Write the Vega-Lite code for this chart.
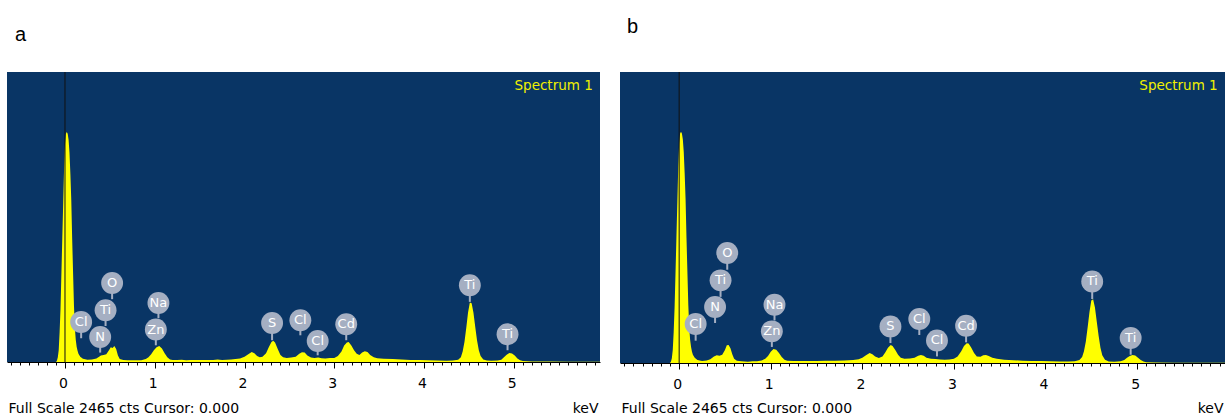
{
  "$schema": "https://vega.github.io/schema/vega-lite/v6.json",
  "background": "white",
  "padding": {"left": 7, "top": 16, "right": 0, "bottom": 0},
  "bounds": "flush",
  "spacing": 20,
  "config": {"font": "DejaVu Sans", "view": {"stroke": null}},
  "datasets": {
    "specA": [
      {"e": -0.646, "c": 0}, {"e": -0.1, "c": 0}, {"e": -0.09, "c": 10}, {"e": -0.08, "c": 40}, {"e": -0.07, "c": 100},
      {"e": -0.06, "c": 250}, {"e": -0.05, "c": 450}, {"e": -0.04, "c": 750}, {"e": -0.03, "c": 1050}, {"e": -0.02, "c": 1350},
      {"e": -0.01, "c": 1650}, {"e": 0.0, "c": 1850}, {"e": 0.01, "c": 1940}, {"e": 0.02, "c": 1955}, {"e": 0.03, "c": 1940},
      {"e": 0.04, "c": 1890}, {"e": 0.05, "c": 1780}, {"e": 0.06, "c": 1600}, {"e": 0.07, "c": 1380}, {"e": 0.08, "c": 1050},
      {"e": 0.09, "c": 760}, {"e": 0.1, "c": 480}, {"e": 0.11, "c": 290}, {"e": 0.12, "c": 190}, {"e": 0.13, "c": 130},
      {"e": 0.14, "c": 95}, {"e": 0.15, "c": 70}, {"e": 0.17, "c": 45}, {"e": 0.2, "c": 28}, {"e": 0.25, "c": 20},
      {"e": 0.3, "c": 22}, {"e": 0.35, "c": 30}, {"e": 0.38, "c": 45}, {"e": 0.4, "c": 55}, {"e": 0.43, "c": 60},
      {"e": 0.46, "c": 65}, {"e": 0.49, "c": 100}, {"e": 0.51, "c": 125}, {"e": 0.53, "c": 118}, {"e": 0.55, "c": 135},
      {"e": 0.57, "c": 110}, {"e": 0.59, "c": 55}, {"e": 0.61, "c": 25}, {"e": 0.65, "c": 18}, {"e": 0.7, "c": 15},
      {"e": 0.75, "c": 14}, {"e": 0.8, "c": 14}, {"e": 0.85, "c": 15}, {"e": 0.9, "c": 25}, {"e": 0.93, "c": 40},
      {"e": 0.96, "c": 65}, {"e": 0.99, "c": 100}, {"e": 1.02, "c": 125}, {"e": 1.05, "c": 135}, {"e": 1.08, "c": 115},
      {"e": 1.11, "c": 75}, {"e": 1.14, "c": 40}, {"e": 1.17, "c": 22}, {"e": 1.2, "c": 18}, {"e": 1.25, "c": 17},
      {"e": 1.3, "c": 20}, {"e": 1.35, "c": 15}, {"e": 1.4, "c": 16}, {"e": 1.45, "c": 17}, {"e": 1.5, "c": 16},
      {"e": 1.55, "c": 18}, {"e": 1.6, "c": 17}, {"e": 1.65, "c": 18}, {"e": 1.7, "c": 22}, {"e": 1.75, "c": 18},
      {"e": 1.8, "c": 20}, {"e": 1.85, "c": 22}, {"e": 1.9, "c": 25}, {"e": 1.95, "c": 30}, {"e": 2.0, "c": 45},
      {"e": 2.05, "c": 70}, {"e": 2.08, "c": 85}, {"e": 2.11, "c": 75}, {"e": 2.14, "c": 50}, {"e": 2.17, "c": 40},
      {"e": 2.2, "c": 45}, {"e": 2.24, "c": 75}, {"e": 2.27, "c": 125}, {"e": 2.3, "c": 170}, {"e": 2.32, "c": 180},
      {"e": 2.34, "c": 165}, {"e": 2.37, "c": 110}, {"e": 2.4, "c": 60}, {"e": 2.43, "c": 40}, {"e": 2.47, "c": 35},
      {"e": 2.52, "c": 38}, {"e": 2.57, "c": 45}, {"e": 2.61, "c": 70}, {"e": 2.64, "c": 82}, {"e": 2.67, "c": 80},
      {"e": 2.7, "c": 55}, {"e": 2.74, "c": 38}, {"e": 2.78, "c": 35}, {"e": 2.82, "c": 38}, {"e": 2.86, "c": 32},
      {"e": 2.9, "c": 30}, {"e": 2.95, "c": 33}, {"e": 3.0, "c": 35}, {"e": 3.04, "c": 50}, {"e": 3.08, "c": 90},
      {"e": 3.11, "c": 140}, {"e": 3.14, "c": 165}, {"e": 3.16, "c": 170}, {"e": 3.19, "c": 140}, {"e": 3.22, "c": 100},
      {"e": 3.25, "c": 70}, {"e": 3.28, "c": 60}, {"e": 3.31, "c": 80}, {"e": 3.34, "c": 92}, {"e": 3.37, "c": 85},
      {"e": 3.4, "c": 60}, {"e": 3.44, "c": 40}, {"e": 3.48, "c": 32}, {"e": 3.55, "c": 28}, {"e": 3.65, "c": 25},
      {"e": 3.75, "c": 22}, {"e": 3.85, "c": 18}, {"e": 3.95, "c": 17}, {"e": 4.05, "c": 15}, {"e": 4.15, "c": 12},
      {"e": 4.25, "c": 10}, {"e": 4.32, "c": 12}, {"e": 4.38, "c": 20}, {"e": 4.41, "c": 40}, {"e": 4.43, "c": 90},
      {"e": 4.45, "c": 170}, {"e": 4.47, "c": 290}, {"e": 4.49, "c": 420}, {"e": 4.51, "c": 505}, {"e": 4.53, "c": 500},
      {"e": 4.55, "c": 420}, {"e": 4.57, "c": 300}, {"e": 4.59, "c": 185}, {"e": 4.61, "c": 100}, {"e": 4.63, "c": 50},
      {"e": 4.66, "c": 22}, {"e": 4.7, "c": 12}, {"e": 4.75, "c": 10}, {"e": 4.82, "c": 12}, {"e": 4.86, "c": 20},
      {"e": 4.89, "c": 40}, {"e": 4.92, "c": 62}, {"e": 4.95, "c": 76}, {"e": 4.98, "c": 72}, {"e": 5.01, "c": 55},
      {"e": 5.04, "c": 30}, {"e": 5.07, "c": 15}, {"e": 5.1, "c": 8}, {"e": 5.2, "c": 5}, {"e": 5.4, "c": 4},
      {"e": 5.6, "c": 3}, {"e": 5.8, "c": 3}, {"e": 5.96, "c": 2}
    ],
    "specB": [
      {"e": -0.646, "c": 0}, {"e": -0.1, "c": 0}, {"e": -0.09, "c": 10}, {"e": -0.08, "c": 40}, {"e": -0.07, "c": 110},
      {"e": -0.06, "c": 260}, {"e": -0.05, "c": 470}, {"e": -0.04, "c": 760}, {"e": -0.03, "c": 1060}, {"e": -0.02, "c": 1360},
      {"e": -0.01, "c": 1660}, {"e": 0.0, "c": 1860}, {"e": 0.01, "c": 1945}, {"e": 0.02, "c": 1958}, {"e": 0.03, "c": 1945},
      {"e": 0.04, "c": 1895}, {"e": 0.05, "c": 1790}, {"e": 0.06, "c": 1610}, {"e": 0.07, "c": 1390}, {"e": 0.08, "c": 1060},
      {"e": 0.09, "c": 770}, {"e": 0.1, "c": 490}, {"e": 0.11, "c": 300}, {"e": 0.12, "c": 195}, {"e": 0.13, "c": 135},
      {"e": 0.14, "c": 95}, {"e": 0.15, "c": 70}, {"e": 0.17, "c": 45}, {"e": 0.2, "c": 25}, {"e": 0.25, "c": 18},
      {"e": 0.3, "c": 22}, {"e": 0.34, "c": 32}, {"e": 0.38, "c": 55}, {"e": 0.41, "c": 65}, {"e": 0.44, "c": 62},
      {"e": 0.47, "c": 70}, {"e": 0.5, "c": 110}, {"e": 0.52, "c": 150}, {"e": 0.54, "c": 152}, {"e": 0.56, "c": 125},
      {"e": 0.58, "c": 75}, {"e": 0.6, "c": 35}, {"e": 0.63, "c": 20}, {"e": 0.68, "c": 15}, {"e": 0.75, "c": 10},
      {"e": 0.8, "c": 14}, {"e": 0.85, "c": 15}, {"e": 0.9, "c": 22}, {"e": 0.94, "c": 35}, {"e": 0.97, "c": 60},
      {"e": 1.0, "c": 95}, {"e": 1.03, "c": 118}, {"e": 1.06, "c": 112}, {"e": 1.09, "c": 85}, {"e": 1.12, "c": 50},
      {"e": 1.15, "c": 28}, {"e": 1.18, "c": 20}, {"e": 1.25, "c": 18}, {"e": 1.3, "c": 16}, {"e": 1.4, "c": 17},
      {"e": 1.5, "c": 18}, {"e": 1.6, "c": 19}, {"e": 1.7, "c": 20}, {"e": 1.8, "c": 22}, {"e": 1.9, "c": 26},
      {"e": 1.96, "c": 32}, {"e": 2.0, "c": 45}, {"e": 2.04, "c": 65}, {"e": 2.08, "c": 85}, {"e": 2.11, "c": 75},
      {"e": 2.14, "c": 55}, {"e": 2.18, "c": 42}, {"e": 2.22, "c": 55}, {"e": 2.25, "c": 90}, {"e": 2.28, "c": 130},
      {"e": 2.31, "c": 152}, {"e": 2.33, "c": 145}, {"e": 2.36, "c": 110}, {"e": 2.39, "c": 70}, {"e": 2.42, "c": 45},
      {"e": 2.46, "c": 35}, {"e": 2.52, "c": 38}, {"e": 2.57, "c": 45}, {"e": 2.61, "c": 62}, {"e": 2.64, "c": 68},
      {"e": 2.67, "c": 62}, {"e": 2.7, "c": 45}, {"e": 2.75, "c": 35}, {"e": 2.8, "c": 33}, {"e": 2.85, "c": 30},
      {"e": 2.9, "c": 28}, {"e": 2.95, "c": 30}, {"e": 3.0, "c": 35}, {"e": 3.04, "c": 55}, {"e": 3.08, "c": 100},
      {"e": 3.11, "c": 145}, {"e": 3.14, "c": 168}, {"e": 3.16, "c": 165}, {"e": 3.19, "c": 130}, {"e": 3.22, "c": 85},
      {"e": 3.25, "c": 55}, {"e": 3.29, "c": 52}, {"e": 3.32, "c": 65}, {"e": 3.35, "c": 68}, {"e": 3.38, "c": 60},
      {"e": 3.42, "c": 45}, {"e": 3.47, "c": 35}, {"e": 3.55, "c": 28}, {"e": 3.65, "c": 24}, {"e": 3.75, "c": 20},
      {"e": 3.85, "c": 18}, {"e": 3.95, "c": 16}, {"e": 4.05, "c": 14}, {"e": 4.15, "c": 12}, {"e": 4.25, "c": 12},
      {"e": 4.32, "c": 15}, {"e": 4.37, "c": 25}, {"e": 4.4, "c": 50}, {"e": 4.42, "c": 100}, {"e": 4.44, "c": 180},
      {"e": 4.46, "c": 300}, {"e": 4.48, "c": 430}, {"e": 4.5, "c": 530}, {"e": 4.52, "c": 540}, {"e": 4.54, "c": 470},
      {"e": 4.56, "c": 350}, {"e": 4.58, "c": 230}, {"e": 4.6, "c": 130}, {"e": 4.62, "c": 65}, {"e": 4.65, "c": 28},
      {"e": 4.69, "c": 12}, {"e": 4.75, "c": 10}, {"e": 4.82, "c": 14}, {"e": 4.86, "c": 25}, {"e": 4.89, "c": 45},
      {"e": 4.92, "c": 60}, {"e": 4.95, "c": 68}, {"e": 4.98, "c": 63}, {"e": 5.01, "c": 45}, {"e": 5.04, "c": 25},
      {"e": 5.07, "c": 12}, {"e": 5.1, "c": 6}, {"e": 5.2, "c": 4}, {"e": 5.4, "c": 3}, {"e": 5.6, "c": 3},
      {"e": 5.8, "c": 2}, {"e": 5.96, "c": 2}
    ],
    "mkA": [
      {"el": "Cl", "e": 0.18, "lab": 340, "tip": 202},
      {"el": "N", "e": 0.392, "lab": 213, "tip": 80},
      {"el": "Ti", "e": 0.452, "lab": 440, "tip": 306},
      {"el": "O", "e": 0.525, "lab": 672, "tip": 534},
      {"el": "Zn", "e": 1.012, "lab": 276, "tip": 142},
      {"el": "Na", "e": 1.041, "lab": 502, "tip": 372},
      {"el": "S", "e": 2.307, "lab": 332, "tip": 185},
      {"el": "Cl", "e": 2.622, "lab": 355, "tip": 227},
      {"el": "Cl", "e": 2.815, "lab": 179, "tip": 57},
      {"el": "Cd", "e": 3.133, "lab": 321, "tip": 185},
      {"el": "Ti", "e": 4.51, "lab": 653, "tip": 511},
      {"el": "Ti", "e": 4.93, "lab": 236, "tip": 100}
    ],
    "mkB": [
      {"el": "Cl", "e": 0.18, "lab": 330, "tip": 189},
      {"el": "N", "e": 0.392, "lab": 474, "tip": 339},
      {"el": "Ti", "e": 0.452, "lab": 700, "tip": 560},
      {"el": "O", "e": 0.525, "lab": 932, "tip": 790},
      {"el": "Zn", "e": 1.012, "lab": 268, "tip": 136},
      {"el": "Na", "e": 1.041, "lab": 494, "tip": 360},
      {"el": "S", "e": 2.307, "lab": 310, "tip": 169},
      {"el": "Cl", "e": 2.622, "lab": 373, "tip": 237},
      {"el": "Cl", "e": 2.815, "lab": 191, "tip": 56},
      {"el": "Cd", "e": 3.133, "lab": 316, "tip": 175},
      {"el": "Ti", "e": 4.51, "lab": 691, "tip": 542},
      {"el": "Ti", "e": 4.93, "lab": 212, "tip": 70}
    ],
    "note": [{"t": "Spectrum 1", "e": 5.88, "c": 2350}]
  },
  "hconcat": [
    {
      "width": 593,
      "height": 290,
      "title": {"text": "a", "anchor": "start", "frame": "group", "font": "Liberation Sans", "fontSize": 20, "fontWeight": "normal", "color": "black", "baseline": "alphabetic", "offset": 11, "dx": 8},
      "view": {"fill": "#093565", "stroke": null},
      "layer": [
        {
          "data": {"name": "specA"},
          "mark": {"type": "area", "color": "#ffff00", "interpolate": "linear", "clip": true},
          "encoding": {
            "x": {"field": "e", "type": "quantitative", "scale": {"domain": [-0.646, 5.96], "nice": false, "zero": false},
              "axis": {"values": [-0.6,-0.5,-0.4,-0.3,-0.2,-0.1,0,0.1,0.2,0.3,0.4,0.5,0.6,0.7,0.8,0.9,1,1.1,1.2,1.3,1.4,1.5,1.6,1.7,1.8,1.9,2,2.1,2.2,2.3,2.4,2.5,2.6,2.7,2.8,2.9,3,3.1,3.2,3.3,3.4,3.5,3.6,3.7,3.8,3.9,4,4.1,4.2,4.3,4.4,4.5,4.6,4.7,4.8,4.9,5,5.1,5.2,5.3,5.4,5.5,5.6,5.7,5.8,5.9],
                "tickCount": 200,
                "labelExpr": "datum.value % 1 === 0 ? format(datum.value, 'd') : ''",
                "tickSize": {"condition": {"test": "datum.value % 1 === 0", "value": 6}, "value": 3},
                "tickColor": "black", "domainColor": "black", "labelColor": "black", "labelFont": "DejaVu Sans", "labelFontSize": 14,
                "labelPadding": 8, "labelOffset": -2, "labelOverlap": false, "labelFlush": false, "grid": false,
                "title": "Full Scale 2465 cts Cursor: 0.000", "titleFont": "DejaVu Sans", "titleFontSize": 14, "titleFontWeight": "normal",
                "titleColor": "black", "titleAnchor": "start", "titleAlign": "left", "titleBaseline": "middle", "titleX": 1, "titleY": 46}},
            "y": {"field": "c", "type": "quantitative", "scale": {"domain": [0, 2465], "nice": false},
              "axis": {"orient": "right", "domain": false, "ticks": false, "labels": false, "grid": false, "title": "keV", "titleAngle": 0,
                "titleAlign": "right", "titleBaseline": "middle", "titleX": -2, "titleY": 336, "titleFont": "DejaVu Sans", "titleFontSize": 14,
                "titleFontWeight": "normal", "titleColor": "black"}}
          }
        },
        {
          "data": {"values": [{"cursor": 0}]},
          "mark": {"type": "rule", "color": "#111111", "strokeWidth": 1},
          "encoding": {"x": {"field": "cursor", "type": "quantitative"}}
        },
        {
          "data": {"name": "mkA"},
          "mark": {"type": "rule", "color": "#a5afc2", "strokeWidth": 2},
          "encoding": {"x": {"field": "e", "type": "quantitative"}, "y": {"field": "lab", "type": "quantitative"}, "y2": {"field": "tip"}}
        },
        {
          "data": {"name": "mkA"},
          "mark": {"type": "circle", "size": 480, "color": "#a5afc2", "opacity": 1},
          "encoding": {"x": {"field": "e", "type": "quantitative"}, "y": {"field": "lab", "type": "quantitative"}}
        },
        {
          "data": {"name": "mkA"},
          "mark": {"type": "text", "color": "white", "font": "DejaVu Sans", "fontSize": 13, "align": "center", "baseline": "middle"},
          "encoding": {"x": {"field": "e", "type": "quantitative"}, "y": {"field": "lab", "type": "quantitative"}, "text": {"field": "el"}}
        },
        {
          "data": {"name": "note"},
          "mark": {"type": "text", "color": "#f0f000", "font": "DejaVu Sans", "fontSize": 13.5, "align": "right", "baseline": "middle"},
          "encoding": {"x": {"field": "e", "type": "quantitative"}, "y": {"field": "c", "type": "quantitative"}, "text": {"field": "t"}}
        }
      ]
    },
    {
      "width": 605,
      "height": 291,
      "title": {"text": "b", "anchor": "start", "frame": "group", "font": "Liberation Sans", "fontSize": 20, "fontWeight": "normal", "color": "black", "baseline": "alphabetic", "offset": 19, "dx": 7},
      "view": {"fill": "#093565", "stroke": null},
      "layer": [
        {
          "data": {"name": "specB"},
          "mark": {"type": "area", "color": "#ffff00", "interpolate": "linear", "clip": true},
          "encoding": {
            "x": {"field": "e", "type": "quantitative", "scale": {"domain": [-0.646, 5.96], "nice": false, "zero": false},
              "axis": {"values": [-0.6,-0.5,-0.4,-0.3,-0.2,-0.1,0,0.1,0.2,0.3,0.4,0.5,0.6,0.7,0.8,0.9,1,1.1,1.2,1.3,1.4,1.5,1.6,1.7,1.8,1.9,2,2.1,2.2,2.3,2.4,2.5,2.6,2.7,2.8,2.9,3,3.1,3.2,3.3,3.4,3.5,3.6,3.7,3.8,3.9,4,4.1,4.2,4.3,4.4,4.5,4.6,4.7,4.8,4.9,5,5.1,5.2,5.3,5.4,5.5,5.6,5.7,5.8,5.9],
                "tickCount": 200,
                "labelExpr": "datum.value % 1 === 0 ? format(datum.value, 'd') : ''",
                "tickSize": {"condition": {"test": "datum.value % 1 === 0", "value": 6}, "value": 3},
                "tickColor": "black", "domainColor": "black", "labelColor": "black", "labelFont": "DejaVu Sans", "labelFontSize": 14,
                "labelPadding": 8, "labelOffset": -2, "labelOverlap": false, "labelFlush": false, "grid": false,
                "title": "Full Scale 2465 cts Cursor: 0.000", "titleFont": "DejaVu Sans", "titleFontSize": 14, "titleFontWeight": "normal",
                "titleColor": "black", "titleAnchor": "start", "titleAlign": "left", "titleBaseline": "middle", "titleX": 1, "titleY": 45}},
            "y": {"field": "c", "type": "quantitative", "scale": {"domain": [0, 2465], "nice": false},
              "axis": {"orient": "right", "domain": false, "ticks": false, "labels": false, "grid": false, "title": "keV", "titleAngle": 0,
                "titleAlign": "right", "titleBaseline": "middle", "titleX": -2, "titleY": 336, "titleFont": "DejaVu Sans", "titleFontSize": 14,
                "titleFontWeight": "normal", "titleColor": "black"}}
          }
        },
        {
          "data": {"values": [{"cursor": 0}]},
          "mark": {"type": "rule", "color": "#111111", "strokeWidth": 1},
          "encoding": {"x": {"field": "cursor", "type": "quantitative"}}
        },
        {
          "data": {"name": "mkB"},
          "mark": {"type": "rule", "color": "#a5afc2", "strokeWidth": 2},
          "encoding": {"x": {"field": "e", "type": "quantitative"}, "y": {"field": "lab", "type": "quantitative"}, "y2": {"field": "tip"}}
        },
        {
          "data": {"name": "mkB"},
          "mark": {"type": "circle", "size": 480, "color": "#a5afc2", "opacity": 1},
          "encoding": {"x": {"field": "e", "type": "quantitative"}, "y": {"field": "lab", "type": "quantitative"}}
        },
        {
          "data": {"name": "mkB"},
          "mark": {"type": "text", "color": "white", "font": "DejaVu Sans", "fontSize": 13, "align": "center", "baseline": "middle"},
          "encoding": {"x": {"field": "e", "type": "quantitative"}, "y": {"field": "lab", "type": "quantitative"}, "text": {"field": "el"}}
        },
        {
          "data": {"name": "note"},
          "mark": {"type": "text", "color": "#f0f000", "font": "DejaVu Sans", "fontSize": 13.5, "align": "right", "baseline": "middle"},
          "encoding": {"x": {"field": "e", "type": "quantitative"}, "y": {"field": "c", "type": "quantitative"}, "text": {"field": "t"}}
        }
      ]
    }
  ]
}
